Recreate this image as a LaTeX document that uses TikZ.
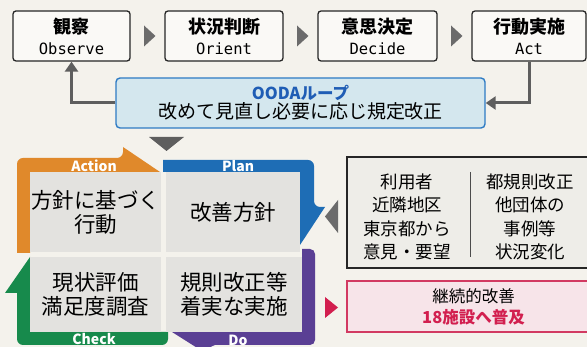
\documentclass[tikz,border=0pt]{standalone}
\usepackage{fontspec}
\setmainfont{Noto Sans CJK JP}
\newfontfamily\monof{DejaVu Sans Mono}
\usetikzlibrary{arrows.meta,calc}
\definecolor{bgc}{HTML}{F4F2EC}
\definecolor{boxfill}{HTML}{FAF9F6}
\definecolor{orangec}{HTML}{E0892B}
\definecolor{bluec}{HTML}{1E6DB5}
\definecolor{purplec}{HTML}{5A3F94}
\definecolor{greenc}{HTML}{178A4C}
\definecolor{quadc}{HTML}{E3E2DF}
\definecolor{oodafill}{HTML}{D4E7EE}
\definecolor{oodaline}{HTML}{2E7BC4}
\definecolor{oodatext}{HTML}{1F5DB5}
\definecolor{arrgray}{HTML}{5E5E5E}
\definecolor{trigray}{HTML}{6B6B6B}
\definecolor{redc}{HTML}{D21F4F}
\definecolor{pinkfill}{HTML}{F7E4E9}
\definecolor{pinkline}{HTML}{D23A62}
\definecolor{rbfill}{HTML}{EEEDE8}
\begin{document}
\begin{tikzpicture}[x=1pt,y=-1pt,
  topbox/.style={draw=black!85, line width=1.3pt, rounded corners=3pt, fill=boxfill,
    minimum height=50pt, inner sep=0pt, align=center, font=\fontsize{18}{21}\selectfont},
  ttl/.style={font=\bfseries},
  conn/.style={draw=arrgray, line width=3pt, -{Triangle[width=13pt,length=10pt]}},
  quad/.style={fill=quadc, inner sep=0pt, align=center, font=\fontsize{21.5}{24}\selectfont},
  pdcalbl/.style={text=white, font=\bfseries\fontsize{14}{14}\selectfont, inner sep=0pt},
  coltext/.style={align=center, inner sep=0pt, font=\fontsize{17.5}{23.3}\selectfont}
]
\useasboundingbox (0,0) rectangle (587,347);
\clip (0,0) rectangle (587,347);
\fill[bgc] (0,0) rectangle (587,347);

% top OODA boxes
\node[topbox, minimum width=117pt] (obs) at (71.5,36) {\textbf{観察}\\{\monof\fontsize{15.5}{21}\selectfont Observe}};
\node[topbox, minimum width=118pt] (ori) at (224,36) {\textbf{状況判断}\\{\monof\fontsize{15.5}{21}\selectfont Orient}};
\node[topbox, minimum width=119pt] (dec) at (377.5,36) {\textbf{意思決定}\\{\monof\fontsize{15.5}{21}\selectfont Decide}};
\node[topbox, minimum width=114pt] (act) at (529,36) {\textbf{行動実施}\\{\monof\fontsize{15.5}{21}\selectfont Act}};

\foreach \a/\b in {obs/ori,ori/dec,dec/act}{
  \coordinate (m) at ($(\a.east)!0.5!(\b.west)$);
  \fill[trigray] ($(m)+(-3.5,-10.5)$) -- ($(m)+(-3.5,10.5)$) -- ($(m)+(8,0)$) -- cycle;
}

% OODA loop box
\node[draw=oodaline, line width=1.4pt, rounded corners=4pt, fill=oodafill,
  minimum width=369pt, minimum height=50pt, inner sep=0pt, align=center] (ooda) at (300.5,103)
  {{\color{oodatext}\bfseries\fontsize{16.5}{22}\selectfont OODAループ}\\[1pt]{\fontsize{19}{22}\selectfont 改めて見直し必要に応じ規定改正}};

\draw[conn] (ooda.west) -| (obs.south);
\draw[conn] (act.south) |- (ooda.east);

% down triangle
\fill[arrgray] (149,137) -- (184,137) -- (166.5,151) -- cycle;

% PDCA frame
\fill[orangec] (30,253) -- (17,253) [rounded corners=6pt] -- (17,158) -- (123,158) [sharp corners] -- (123,147) -- (160,172) -- (30,172) -- cycle;
\fill[bluec] (163,172) -- (163,160) [rounded corners=6pt] -- (314,160) -- (314,207) [sharp corners] -- (325,207) -- (300,245) -- (300,172) -- cycle;
\fill[purplec] (302,332) -- (302,249) [rounded corners=5pt] -- (315,249) -- (315,345) -- (210,345) [sharp corners] -- (210,356) -- (172,332) -- cycle;
\fill[greenc] (30,257) -- (5,293) -- (17,293) [rounded corners=6pt] -- (17,345) -- (168,345) [sharp corners] -- (168,332) -- (30,332) -- cycle;

\node[quad, minimum width=131pt, minimum height=80pt] (qa) at (95.5,212) {方針に基づく\\行動};
\node[quad, minimum width=134pt, minimum height=80pt] (qp) at (233,212) {改善方針};
\node[quad, minimum width=131pt, minimum height=75pt] (qc) at (95.5,294.5) {現状評価\\満足度調査};
\node[quad, minimum width=136pt, minimum height=75pt] (qd) at (234,294.5) {規則改正等\\着実な実施};

\node[pdcalbl] (la) at (94,165.5) {Action};
\node[pdcalbl] (lp) at (238,166) {Plan};
\node[pdcalbl] (lc) at (94,339.5) {Check};
\node[pdcalbl] (ld) at (238,340) {Do};

% right input box
\node[draw=black!85, line width=1.3pt, fill=rbfill, minimum width=253pt, minimum height=111pt, inner sep=0pt] (inbox) at (473.5,212.5) {};
\draw[black!70, line width=1pt] (470,172) -- (470,257);
\node[coltext] (lt) at (407,217) {利用者\\近隣地区\\東京都から\\意見・要望};
\node[coltext] (rt) at (530,217) {都規則改正\\他団体の\\事例等\\状況変化};
\fill[trigray] (338,200) -- (338,233) -- (325,216.5) -- cycle;

% result box
\node[draw=pinkline, line width=1.3pt, fill=pinkfill, minimum width=253pt, minimum height=51pt, inner sep=0pt, align=center,
  font=\fontsize{16.5}{21}\selectfont] (res) at (473.5,306.5)
  {継続的改善\\{\color{redc}\bfseries 18施設へ普及}};
\fill[redc] (325,297) -- (325,318) -- (338,307.5) -- cycle;
\end{tikzpicture}
\end{document}
